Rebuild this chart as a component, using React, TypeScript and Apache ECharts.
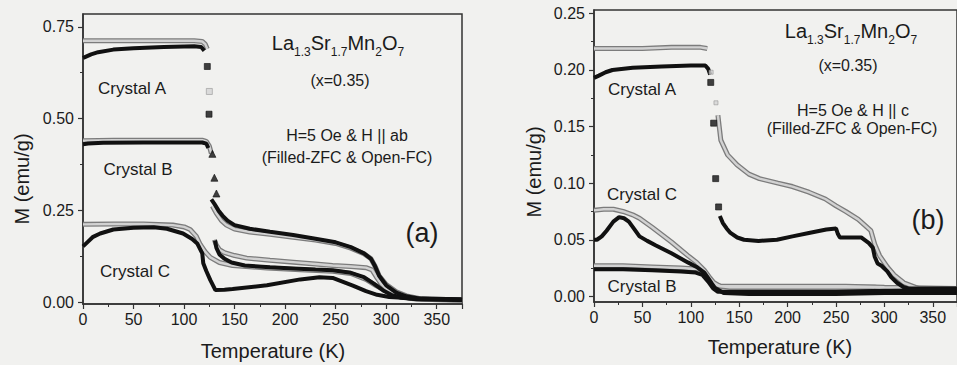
import React, { useEffect, useRef } from "react";
import * as echarts from "echarts";

// ---------- tick values ----------
const xTickValues = [0, 50, 100, 150, 200, 250, 300, 350];
const yTicksA = [0, 0.25, 0.5, 0.75];
const yMinorA = [0.125, 0.375, 0.625];
const yTicksB = [0, 0.05, 0.1, 0.15, 0.2, 0.25];
const yMinorB = [0.025, 0.075, 0.125, 0.175, 0.225];

// ---------- panel (a): H || ab ----------
const aA_FC_low = [[0,0.712],[20,0.712],[50,0.712],[80,0.712],[110,0.712],[118,0.71],[121,0.703],[123,0.69]];
const aA_FC_jump = [[125,0.574]];
const aA_FC_high = [[128,0.262],[132,0.242],[137,0.222],[142,0.21],[150,0.199],[165,0.191],[185,0.185],[208,0.177],[230,0.169],[250,0.16],[265,0.147],[278,0.132],[285,0.118],[289,0.098],[293,0.072],[300,0.048],[310,0.028],[320,0.017],[335,0.009],[375,0.006]];
const aA_ZFC_low = [[0,0.665],[3,0.669],[8,0.675],[15,0.681],[30,0.688],[50,0.692],[80,0.695],[110,0.697],[117,0.695],[120,0.685]];
const aA_ZFC_jump = [[123,0.642],[124.7,0.512]];
const aA_ZFC_high = [[127,0.28],[130,0.268],[134,0.25],[138,0.236],[143,0.222],[150,0.21],[165,0.2],[185,0.192],[208,0.183],[230,0.173],[250,0.163],[265,0.15],[278,0.133],[285,0.118],[289,0.098],[293,0.072],[300,0.046],[310,0.026],[320,0.016],[335,0.009],[375,0.006]];

const aB_FC_low = [[0,0.44],[30,0.441],[60,0.441],[90,0.441],[118,0.441],[122,0.438],[125,0.425],[127,0.405]];
const aB_FC_high = [[130,0.17],[132,0.155],[135,0.143],[140,0.135],[150,0.127],[162,0.12],[185,0.114],[208,0.109],[230,0.104],[247,0.1],[265,0.097],[280,0.094],[286,0.088],[290,0.07],[295,0.05],[302,0.032],[312,0.018],[325,0.01],[345,0.007],[375,0.006]];
const aB_ZFC_low = [[0,0.43],[5,0.432],[20,0.434],[60,0.435],[100,0.435],[118,0.435],[122,0.432],[124,0.42]];
const aB_ZFC_jump = [[128,0.404],[130,0.339],[132,0.296]];
const aB_ZFC_high = [[130.6,0.168],[132,0.148],[135,0.13],[140,0.118],[147,0.108],[160,0.1],[185,0.095],[208,0.092],[230,0.089],[247,0.087],[265,0.08],[278,0.068],[288,0.05],[297,0.032],[305,0.02],[315,0.012],[330,0.008],[375,0.006]];

const aC_FC = [[0,0.212],[30,0.213],[60,0.213],[89,0.21],[100,0.205],[106,0.198],[112,0.18],[116,0.157],[121,0.137],[126,0.122],[135,0.108],[148,0.1],[182,0.093],[215,0.088],[247,0.084],[265,0.078],[280,0.062],[290,0.045],[300,0.03],[310,0.018],[325,0.01],[345,0.007],[375,0.006]];
const aC_ZFC = [[0,0.152],[5,0.165],[10,0.178],[17,0.187],[30,0.198],[50,0.203],[70,0.204],[83,0.2],[99,0.187],[108,0.172],[113,0.16],[118,0.133],[119,0.106],[122,0.085],[126,0.06],[131,0.033],[140,0.034],[148,0.036],[182,0.046],[215,0.062],[234,0.068],[247,0.066],[267,0.045],[280,0.03],[291,0.02],[303,0.014],[330,0.01],[375,0.008]];

// ---------- panel (b): H || c ----------
const bA_FC_low = [[0,0.219],[20,0.219],[50,0.219],[80,0.22],[110,0.22],[117,0.219]];
const bA_FC_jump = [[121,0.198],[126,0.171]];
const bA_FC_high = [[128,0.16],[131,0.138],[138,0.125],[148,0.116],[160,0.108],[171,0.104],[190,0.1],[205,0.097],[222,0.092],[239,0.086],[250,0.08],[260,0.075],[273,0.068],[286,0.058],[290,0.046],[295,0.036],[303,0.026],[310,0.019],[320,0.012],[335,0.007],[375,0.006]];
const bA_ZFC_low = [[0,0.193],[5,0.195],[12,0.198],[19,0.2],[40,0.202],[70,0.203],[100,0.204],[115,0.204],[118,0.201],[120,0.196]];
const bA_ZFC_jump = [[120.6,0.189],[123.6,0.153],[125.7,0.104],[128.7,0.079]];
const bA_ZFC_high = [[130,0.071],[133,0.065],[137,0.06],[141,0.056],[148,0.052],[155,0.05],[170,0.049],[189,0.05],[205,0.053],[222,0.056],[240,0.059],[250,0.06],[252,0.055],[254,0.052],[276,0.052],[284,0.047],[288,0.043],[290,0.035],[293,0.029],[297,0.027],[303,0.022],[307,0.017],[313,0.012],[320,0.008],[325,0.007],[375,0.007]];

const bC_FC = [[0,0.076],[10,0.077],[20,0.077],[30,0.075],[40,0.072],[47,0.069],[60,0.061],[80,0.048],[97,0.036],[106,0.03],[114,0.023],[120,0.016],[124,0.012],[130,0.009],[140,0.008],[200,0.008],[250,0.008],[290,0.008],[300,0.007],[320,0.005],[375,0.004]];
const bC_ZFC = [[0,0.05],[3,0.05],[8,0.053],[13,0.058],[20,0.066],[26,0.07],[31,0.069],[36,0.066],[42,0.059],[47,0.053],[55,0.049],[64,0.045],[80,0.038],[97,0.03],[106,0.026],[114,0.021],[118,0.016],[122,0.011],[125,0.0075],[130,0.005],[134,0.003],[160,0.002],[200,0.002],[250,0.002],[300,0.003],[375,0.003]];

const bB_FC = [[0,0.027],[30,0.027],[60,0.026],[90,0.025],[110,0.024],[116,0.02],[121,0.013],[126,0.01],[131,0.009],[200,0.009],[260,0.009],[300,0.008],[375,0.007]];
const bB_ZFC = [[0,0.024],[30,0.024],[60,0.023],[90,0.022],[105,0.021],[112,0.019],[118,0.013],[123,0.007],[128,0.004],[140,0.004],[250,0.004],[300,0.005],[375,0.005]];

// ---------- texts ----------
const crystalLabelsA = [
  { text: "Crystal A", x: 132, y: 88 },
  { text: "Crystal B", x: 138, y: 169 },
  { text: "Crystal C", x: 135, y: 271 },
];
const crystalLabelsB = [
  { text: "Crystal A", x: 642, y: 89 },
  { text: "Crystal C", x: 642, y: 194 },
  { text: "Crystal B", x: 642, y: 286 },
];

const FONT = "'Liberation Sans', Arial, Helvetica, sans-serif";
const TXT = "#1b1b1b";
const BG = "#f1f1ef";

function fc(data: number[][], g: number, name: string) {
  return [
    {
      name, type: "line", xAxisIndex: g, yAxisIndex: g, data,
      showSymbol: false, symbol: "none", z: 2,
      lineStyle: { color: "#7c7c7c", width: 5 },
    },
    {
      name, type: "line", xAxisIndex: g, yAxisIndex: g, data,
      showSymbol: false, symbol: "none", z: 3,
      lineStyle: { color: "#d2d2d2", width: 2.4 },
    },
  ];
}
function zfc(data: number[][], g: number, name: string) {
  return {
    name, type: "line", xAxisIndex: g, yAxisIndex: g, data,
    showSymbol: false, symbol: "none", z: 4,
    lineStyle: { color: "#111", width: 4 },
  };
}
function pts(data: number[][], g: number, name: string, symbol: string, color: string, size = 6) {
  return {
    name, type: "scatter", xAxisIndex: g, yAxisIndex: g, data,
    symbol, symbolSize: size, z: 5,
    itemStyle: { color, borderColor: color === "#111" ? "#111" : "#999", borderWidth: 0.8 },
  };
}

function xAxis(g: number) {
  return {
    type: "value", gridIndex: g, min: 0, max: 375, interval: 50,
    axisLine: { show: true, onZero: false, lineStyle: { color: "#333", width: 1.5 } },
    axisTick: { show: true, inside: false, length: 5, lineStyle: { color: "#333", width: 1.2 } },
    minorTick: { show: true, splitNumber: 2, length: 3, lineStyle: { color: "#333", width: 1 } },
    axisLabel: { fontFamily: FONT, fontSize: 16, color: TXT, margin: 7, showMaxLabel: false },
    splitLine: { show: false },
    minorSplitLine: { show: false },
  };
}
function yAxis(g: number, min: number, max: number, ticks: number[]) {
  return {
    type: "value", gridIndex: g, min, max,
    axisLine: { show: true, onZero: false, lineStyle: { color: "#333", width: 1.5 } },
    axisTick: { show: true, length: 5, customValues: ticks, lineStyle: { color: "#333", width: 1.2 } },
    axisLabel: {
      fontFamily: FONT, fontSize: 16, color: TXT, margin: 9, customValues: ticks,
      formatter: (v: number) => v.toFixed(2),
    },
    splitLine: { show: false },
  };
}
function yMinorAxis(g: number, min: number, max: number, ticks: number[]) {
  return {
    type: "value", gridIndex: g, min, max, position: "left",
    axisLine: { show: false, onZero: false },
    axisTick: { show: true, length: 3, customValues: ticks, lineStyle: { color: "#333", width: 1 } },
    axisLabel: { show: false },
    splitLine: { show: false },
  };
}

function txt(text: string, x: number, y: number, size = 16, extra: any = {}) {
  return {
    type: "text", x, y, z: 10,
    style: { text, fontFamily: FONT, fontSize: size, fill: TXT, align: "center", verticalAlign: "middle", ...extra },
  };
}
function formula(x: number, y: number) {
  return {
    type: "text", x, y, z: 10,
    style: {
      text: "{b|La}{s|1.3}{b|Sr}{s|1.7}{b|Mn}{s|2}{b|O}{s|7}",
      align: "center", verticalAlign: "middle", fill: TXT,
      rich: {
        b: { fontFamily: FONT, fontSize: 20, lineHeight: 21, fill: TXT, verticalAlign: "bottom", padding: [0, 0, 7, 0] },
        s: { fontFamily: FONT, fontSize: 12, lineHeight: 13, fill: TXT, verticalAlign: "bottom", padding: [0, 0, 2, 0] },
      },
    },
  };
}

export default function App() {
  const ref = useRef<HTMLDivElement>(null);
  useEffect(() => {
    if (!ref.current) return;
    const chart = echarts.init(ref.current, undefined, { renderer: "svg" });
    const series: any[] = [
      // panel a
      ...fc(aA_FC_low, 0, "A FC (ab)"), pts(aA_FC_jump, 0, "A FC (ab)", "rect", "#d4d4d4"), ...fc(aA_FC_high, 0, "A FC (ab)"),
      ...fc(aB_FC_low, 0, "B FC (ab)"), ...fc(aB_FC_high, 0, "B FC (ab)"),
      ...fc(aC_FC, 0, "C FC (ab)"),
      zfc(aA_ZFC_low, 0, "A ZFC (ab)"), pts(aA_ZFC_jump, 0, "A ZFC (ab)", "rect", "#111"), zfc(aA_ZFC_high, 0, "A ZFC (ab)"),
      zfc(aB_ZFC_low, 0, "B ZFC (ab)"), pts(aB_ZFC_jump, 0, "B ZFC (ab)", "triangle", "#111", 7), zfc(aB_ZFC_high, 0, "B ZFC (ab)"),
      zfc(aC_ZFC, 0, "C ZFC (ab)"),
      // panel b
      ...fc(bA_FC_low, 1, "A FC (c)"), pts(bA_FC_jump, 1, "A FC (c)", "rect", "#d4d4d4", 4), ...fc(bA_FC_high, 1, "A FC (c)"),
      ...fc(bC_FC, 1, "C FC (c)"),
      ...fc(bB_FC, 1, "B FC (c)"),
      zfc(bA_ZFC_low, 1, "A ZFC (c)"), pts(bA_ZFC_jump, 1, "A ZFC (c)", "rect", "#111"), zfc(bA_ZFC_high, 1, "A ZFC (c)"),
      zfc(bC_ZFC, 1, "C ZFC (c)"),
      zfc(bB_ZFC, 1, "B ZFC (c)"),
    ];
    chart.setOption({
      animation: false,
      backgroundColor: BG,
      grid: [
        { left: 83, top: 14, width: 379, height: 290, show: true, borderColor: "#333", borderWidth: 1.5, backgroundColor: "transparent" },
        { left: 594, top: 10, width: 370, height: 292, show: true, borderColor: "#333", borderWidth: 1.5, backgroundColor: "transparent" },
      ],
      xAxis: [xAxis(0), xAxis(1)],
      yAxis: [
        yAxis(0, -0.005, 0.785, yTicksA),
        yAxis(1, -0.005, 0.253, yTicksB),
        yMinorAxis(0, -0.005, 0.785, yMinorA),
        yMinorAxis(1, -0.005, 0.253, yMinorB),
      ],
      series,
      graphic: [
        txt("M (emu/g)", 22, 179, 20, {}),
        txt("Temperature (K)", 273, 351, 20),
        txt("M (emu/g)", 534, 172, 20),
        txt("Temperature (K)", 780, 347, 20),
        formula(338, 49),
        txt("(x=0.35)", 340, 80, 16),
        txt("H=5 Oe & H || ab", 347, 135, 16),
        txt("(Filled-ZFC & Open-FC)", 347, 157, 16),
        txt("(a)", 422, 233, 27),
        ...crystalLabelsA.map((c) => txt(c.text, c.x, c.y, 17)),
        formula(851, 37),
        txt("(x=0.35)", 848, 65, 16),
        txt("H=5 Oe & H || c", 853, 110, 16),
        txt("(Filled-ZFC & Open-FC)", 852, 128, 16),
        txt("(b)", 928, 220, 27),
        ...crystalLabelsB.map((c) => txt(c.text, c.x, c.y, 17)),
      ],
    });
    // rotate y-axis titles
    const opt: any = chart.getOption();
    const gr = opt.graphic[0].elements;
    chart.setOption({
      graphic: gr.map((e: any, i: number) =>
        i === 0 || i === 2 ? { id: e.id, rotation: Math.PI / 2 } : { id: e.id }
      ),
    });
    return () => chart.dispose();
  }, []);
  return <div ref={ref} style={{ position: "fixed", left: 0, top: 0, width: 957, height: 365 }} />;
}
